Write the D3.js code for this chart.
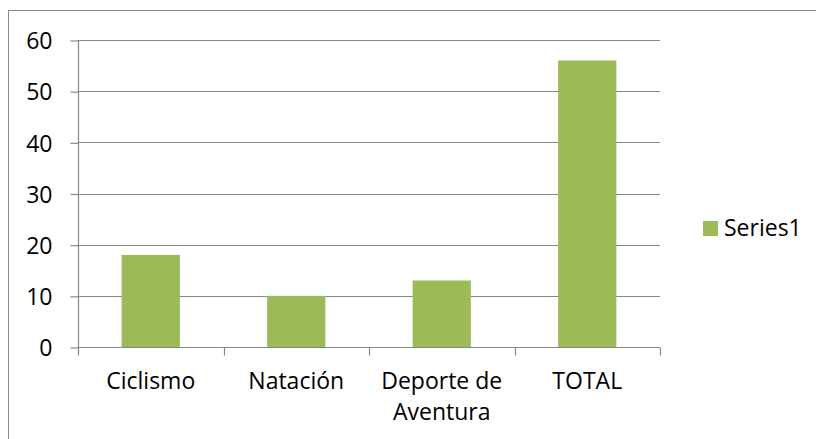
<!DOCTYPE html>
<html><head><meta charset="utf-8">
<script src="https://cdn.jsdelivr.net/npm/d3@7"></script>
<style>html,body{margin:0;padding:0;background:#fff;overflow:hidden}</style>
</head><body>
<script>
const categories = [["Ciclismo"], ["Natación"], ["Deporte de", "Aventura"], ["TOTAL"]];
const values = [18, 10, 13, 56];
const yTicks = [0, 10, 20, 30, 40, 50, 60];
const seriesName = "Series1";

const W = 816, H = 439;
const font = "'Open Sans', Lato, sans-serif";
const fs = 23;
const gray = "#878787";
const barColor = "#9BBB59";

const svg = d3.select("body").append("svg").attr("width", W).attr("height", H);
svg.append("rect").attr("x", 8.5).attr("y", 10.5).attr("width", W).attr("height", H)
  .attr("fill", "#fff").attr("stroke", "#8c8c8c").attr("stroke-width", 1);

const pLeft = 78, pRight = 660, pTop = 40, pBottom = 347;
const keys = categories.map(c => c.join(" "));
const x = d3.scaleBand().domain(keys).range([pLeft, pRight]).paddingInner(0.6).paddingOuter(0.3);
const xb = d3.scaleBand().domain(keys).range([pLeft, pRight]);
const y = d3.scaleLinear().domain([0, 60]).range([pBottom, pTop]);

// gridlines
svg.append("g").selectAll("line").data(yTicks.filter(t => t > 0)).join("line")
  .attr("x1", pLeft).attr("x2", pRight)
  .attr("y1", d => Math.round(y(d)) + 0.5).attr("y2", d => Math.round(y(d)) + 0.5)
  .attr("stroke", gray).attr("stroke-width", 1.2);

// bars
svg.append("g").selectAll("rect").data(values).join("rect")
  .attr("x", (d, i) => x(keys[i])).attr("width", x.bandwidth())
  .attr("y", d => y(d)).attr("height", d => y(0) - y(d))
  .attr("fill", barColor);

// y axis
const yAxis = d3.axisLeft(y).tickValues(yTicks).tickSize(8).tickPadding(18);
const gy = svg.append("g").attr("transform", `translate(${pLeft + 0.5},0.5)`).call(yAxis);
gy.selectAll("path,line").attr("stroke", gray).attr("stroke-width", 1.2);
gy.select(".domain").attr("d", `M0,${pTop}V${pBottom}`);
gy.selectAll("text").attr("font-family", font).attr("font-size", fs).attr("fill", "#000").attr("dy", "0.36em");

// x axis
const xAxis = d3.axisBottom(xb).tickSize(0).tickFormat("");
const gx = svg.append("g").attr("transform", `translate(0,${pBottom + 0.5})`).call(xAxis);
gx.select(".domain").attr("d", `M${pLeft},0H${pRight}`).attr("stroke", gray).attr("stroke-width", 1.2);
const bounds = keys.map(k => xb(k)).concat([pRight]);
gx.selectAll("line.tk").data(bounds).join("line").attr("class", "tk")
  .attr("x1", d => Math.round(d) + 0.5).attr("x2", d => Math.round(d) + 0.5)
  .attr("y1", 0).attr("y2", 8).attr("stroke", gray).attr("stroke-width", 1.2);

const labels = svg.append("g");
categories.forEach((lines, i) => {
  const t = labels.append("text").attr("text-anchor", "middle")
    .attr("font-family", font).attr("font-size", fs).attr("fill", "#000");
  lines.forEach((ln, j) => {
    t.append("tspan").attr("x", x(keys[i]) + x.bandwidth() / 2).attr("y", 389 + j * 31).text(ln);
  });
});

// legend
const lg = svg.append("g");
lg.append("rect").attr("x", 703).attr("y", 221).attr("width", 15).attr("height", 15).attr("fill", barColor);
lg.append("text").attr("x", 724).attr("y", 236).attr("font-family", font).attr("font-size", fs)
  .attr("fill", "#000").text(seriesName);
</script>
</body></html>
